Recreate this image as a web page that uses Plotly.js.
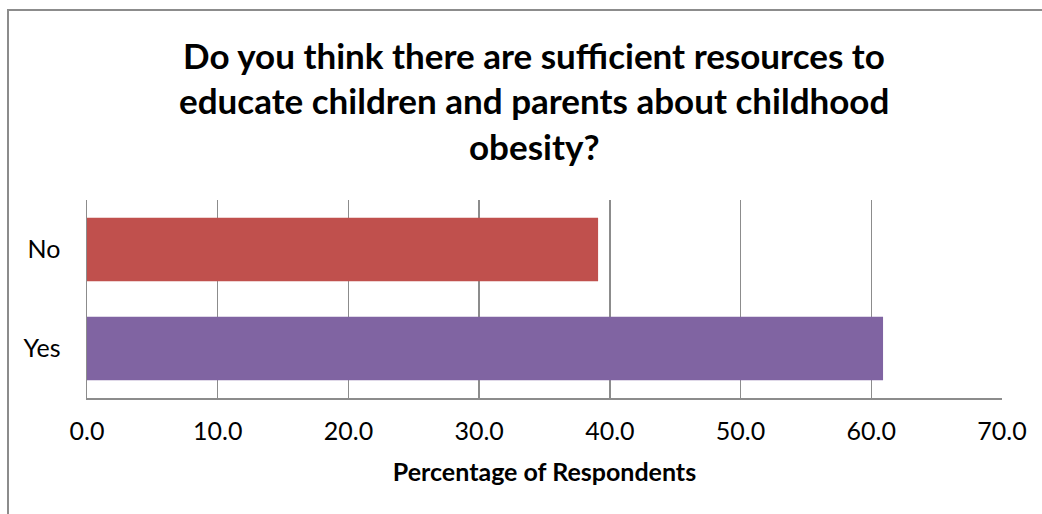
<!DOCTYPE html>
<html>
<head>
<meta charset="utf-8">
<script src="https://cdn.plot.ly/plotly-3.0.1.min.js"></script>
<style>
  html, body { margin: 0; padding: 0; background: #fff; overflow: hidden; }
  #wrap { position: relative; width: 1042px; height: 514px; }
  #chart { width: 1042px; height: 514px; }
  /* outer chart frame (top and left edges are the visible ones) */
  #frame { position: absolute; left: 7px; top: 9px; width: 1100px; height: 600px;
           border-left: 2px solid #8c8c8c; border-top: 2px solid #8c8c8c; pointer-events: none; }
</style>
</head>
<body>
<div id="wrap">
  <div id="chart"></div>
  <div id="frame"></div>
</div>
<script>
// survey answers, bottom to top
const categories = ['Yes', 'No'];
const percentages = [60.9, 39.1];
const barColors = ['#8064A2', '#C0504D'];
const xTicks = [0, 10, 20, 30, 40, 50, 60, 70];
const xTickLabels = ['0.0', '10.0', '20.0', '30.0', '40.0', '50.0', '60.0', '70.0'];
const titleLines = [
  'Do you think there are sufficient resources to',
  'educate children and parents about childhood',
  'obesity?'
];
const xAxisTitle = 'Percentage of Respondents';

const FONT = 'Lato, "Open Sans", sans-serif';
const H = 514;

const trace = {
  type: 'bar',
  orientation: 'h',
  y: categories,
  x: percentages,
  marker: { color: barColors, line: { width: 0 } },
  hoverinfo: 'x+y'
};

// title lines placed on a fixed baseline spacing
const titleBaselines = [69, 114, 160];
const annotations = titleLines.map((t, i) => ({
  text: '<b>' + t + '</b>',
  xref: 'paper', yref: 'paper',
  x: 0.4887, xanchor: 'center',
  y: 1 + (200 - titleBaselines[i] - 9) / 198, yanchor: 'bottom',
  showarrow: false,
  font: { family: FONT, size: 35, color: '#000' }
}));

const layout = {
  width: 1042, height: H,
  margin: { l: 87, r: 40, t: 200, b: 116, pad: 0 },
  paper_bgcolor: '#fff', plot_bgcolor: '#fff',
  showlegend: false,
  bargap: 0.36,
  font: { family: FONT, color: '#000' },
  xaxis: {
    range: [0, 70],
    tickvals: xTicks, ticktext: xTickLabels,
    showgrid: true, gridcolor: '#8c8c8c', gridwidth: 1.5,
    zeroline: false,
    showline: true, linecolor: '#8c8c8c', linewidth: 1.5,
    mirror: false,
    ticks: '', ticklen: 0, ticklabelstandoff: 10,
    tickfont: { family: FONT, size: 25, color: '#000' },
    fixedrange: true,
    title: { text: '<b>' + xAxisTitle + '</b>', font: { family: FONT, size: 25, color: '#000' }, standoff: 20 }
  },
  yaxis: {
    type: 'category',
    categoryorder: 'array', categoryarray: categories,
    showgrid: false, zeroline: false,
    showline: true, linecolor: '#8c8c8c', linewidth: 1.5,
    ticks: '', ticklabelstandoff: 20,
    tickfont: { family: FONT, size: 25, color: '#000' },
    fixedrange: true
  },
  annotations: annotations
};

Plotly.newPlot('chart', [trace], layout, { displayModeBar: false, staticPlot: true });
</script>
</body>
</html>
